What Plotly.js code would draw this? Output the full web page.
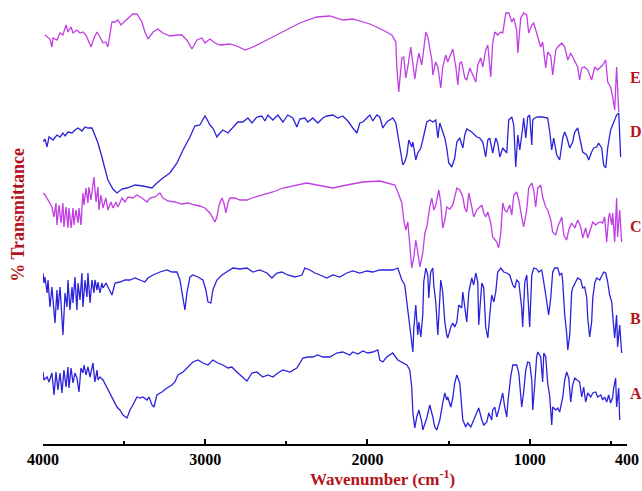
<!DOCTYPE html>
<html>
<head>
<meta charset="utf-8">
<script src="https://cdn.plot.ly/plotly-3.0.1.min.js"></script>
<style>html,body{margin:0;padding:0;background:#fff;}#chart{width:642px;height:491px;}</style>
</head>
<body>
<div id="chart"></div>
<script>
// Offset %T values (arbitrary stacked units)
const waveE = [3988,3957,3945,3938,3914,3895,3877,3858,3846,3827,3815,3791,3772,3754,3735,3704,3686,3667,3649,3630,3612,3600,3575,3556,3538,3519,3501,3476,3446,3421,3390,3372,3353,3322,3292,3261,3218,3174,3144,3113,3082,3051,3020,3002,2971,2940,2909,2848,2805,2755,2706,2620,2521,2417,2312,2232,2152,2090,1985,1905,1850,1825,1819,1807,1788,1776,1764,1751,1733,1720,1708,1696,1683,1665,1659,1640,1628,1603,1597,1579,1566,1548,1536,1517,1505,1486,1474,1455,1443,1431,1419,1400,1388,1369,1351,1332,1320,1302,1289,1271,1258,1240,1228,1215,1197,1178,1166,1147,1129,1110,1098,1080,1073,1055,1037,1018,1006,987,975,957,944,932,920,901,889,870,858,839,827,802,784,765,747,722,704,692,679,661,642,618,599,581,550,531,519,501,488,476,464,451];
const transE = [409,405,397,406,404,411,409,419,412,417,411,414,411,412,409,397,406,412,407,401,402,397,422,422,424,419,422,426,430,430,422,412,405,412,415,411,408,409,409,404,395,404,406,401,405,401,399,400,398,394,397,404,412,421,427,428,424,425,420,414,409,402,377,352,386,387,366,377,397,381,365,379,391,379,387,412,407,384,369,382,377,356,377,389,382,391,395,377,359,381,382,366,364,376,369,362,379,386,377,394,399,367,401,412,409,412,411,431,431,422,426,414,391,426,431,429,411,419,421,411,404,397,402,376,392,388,369,394,397,401,397,384,391,382,377,364,376,377,374,364,377,374,379,384,362,357,347,334,377,332];

const waveD = [4000,3988,3975,3963,3938,3914,3895,3877,3864,3846,3821,3803,3784,3760,3741,3723,3698,3680,3661,3637,3618,3600,3569,3544,3513,3482,3433,3384,3328,3298,3261,3218,3174,3137,3094,3064,3033,3014,3002,2990,2971,2953,2928,2909,2891,2860,2829,2799,2768,2737,2712,2682,2651,2632,2614,2583,2552,2521,2491,2460,2435,2417,2386,2367,2337,2306,2275,2250,2213,2183,2152,2121,2090,2065,2047,2028,2004,1985,1967,1942,1924,1905,1881,1862,1844,1825,1813,1794,1782,1770,1757,1745,1727,1720,1702,1690,1671,1659,1653,1634,1616,1597,1579,1566,1554,1536,1523,1511,1499,1480,1462,1449,1431,1412,1400,1388,1357,1326,1308,1289,1271,1258,1246,1228,1209,1197,1184,1166,1141,1129,1110,1098,1086,1073,1061,1043,1037,1024,1012,1000,987,981,969,950,920,889,876,864,852,833,815,796,784,772,753,735,722,704,685,673,648,636,618,605,587,575,556,544,531,519,501,488,470,464,451,445,439];
const transD = [302,305,297,307,304,309,307,311,308,312,311,314,316,313,317,316,316,309,301,287,274,264,255,251,255,256,259,258,256,261,266,271,281,294,307,318,319,324,328,325,319,316,307,311,314,311,317,322,322,326,321,327,328,323,329,324,329,322,329,326,317,325,326,322,326,321,326,328,329,326,328,323,316,311,321,322,326,329,323,329,327,316,322,324,326,321,309,292,279,282,289,304,297,302,284,291,296,304,309,322,324,322,324,306,321,311,306,296,281,277,286,302,306,296,309,315,312,307,306,302,287,304,306,291,306,301,287,296,291,324,327,319,277,309,294,316,326,306,327,329,299,324,326,327,327,326,312,294,306,289,284,306,312,307,296,302,312,316,302,292,289,284,292,296,297,301,296,279,276,296,314,319,326,329,331,299,287];

const waveC = [3998,3988,3969,3945,3932,3920,3914,3901,3889,3877,3871,3858,3846,3840,3827,3815,3809,3797,3784,3778,3766,3754,3747,3735,3723,3717,3704,3692,3686,3673,3661,3655,3643,3630,3612,3600,3581,3569,3550,3538,3513,3495,3476,3446,3421,3390,3359,3341,3310,3279,3261,3230,3187,3144,3107,3064,3033,3002,2971,2953,2940,2928,2916,2897,2885,2873,2860,2848,2817,2786,2743,2694,2645,2583,2521,2460,2374,2312,2232,2213,2127,2028,1924,1881,1831,1813,1788,1776,1764,1751,1739,1727,1714,1702,1690,1677,1659,1646,1634,1616,1603,1591,1579,1560,1548,1536,1523,1511,1492,1474,1449,1431,1412,1400,1388,1375,1357,1345,1326,1314,1295,1283,1271,1258,1240,1228,1215,1203,1191,1178,1166,1154,1141,1123,1110,1098,1080,1067,1049,1037,1018,1006,987,975,963,950,932,920,901,889,870,858,839,827,802,790,772,759,741,722,704,685,673,655,642,624,611,593,581,562,550,538,525,513,507,494,488,476,464,458,445,433];
const transC = [251,249,244,237,227,241,219,239,221,241,217,237,216,236,216,236,219,234,221,236,219,251,239,256,241,257,244,262,267,242,257,234,249,236,246,234,242,236,242,237,246,242,247,246,249,246,242,246,247,251,246,243,242,240,241,239,238,236,231,226,222,227,238,246,241,231,241,246,246,244,244,247,249,252,256,258,261,259,257,256,259,262,263,261,259,252,241,224,214,222,201,176,187,204,192,177,191,211,217,237,246,234,239,254,241,216,224,237,235,239,256,254,247,236,232,251,237,227,234,236,239,231,227,232,221,207,204,202,196,211,241,234,232,239,229,249,252,244,227,217,234,256,261,254,237,256,259,247,237,234,224,212,209,217,227,209,204,214,221,216,224,217,206,216,206,216,222,219,221,222,221,227,202,227,231,219,231,202,246,207,234,202];

const waveB = [4000,3994,3988,3975,3969,3957,3945,3938,3926,3914,3908,3895,3883,3877,3864,3852,3846,3834,3821,3815,3803,3791,3784,3772,3760,3754,3741,3729,3723,3710,3698,3686,3680,3667,3661,3649,3637,3630,3612,3600,3575,3556,3526,3495,3464,3433,3402,3372,3353,3322,3279,3236,3205,3174,3156,3137,3125,3113,3094,3076,3045,3014,2996,2983,2965,2953,2928,2897,2866,2829,2786,2743,2706,2663,2620,2589,2558,2528,2491,2447,2404,2386,2355,2324,2293,2263,2250,2213,2170,2127,2090,2047,2004,1967,1924,1881,1844,1813,1788,1770,1757,1745,1733,1720,1714,1702,1690,1683,1671,1659,1653,1640,1628,1622,1610,1597,1591,1579,1566,1560,1548,1536,1523,1511,1505,1486,1474,1462,1449,1437,1419,1412,1400,1388,1375,1357,1345,1332,1320,1314,1295,1283,1271,1258,1246,1234,1221,1209,1197,1178,1160,1141,1123,1104,1092,1080,1067,1049,1043,1030,1018,1012,1000,987,975,957,944,926,920,901,889,883,870,858,846,827,815,802,796,784,772,765,753,741,735,716,704,685,673,661,648,642,630,618,611,599,587,568,550,544,531,519,507,494,488,476,464,458,445,433];
const transB = [171,161,167,151,164,137,157,144,121,154,134,157,131,109,151,137,164,134,157,141,167,134,161,144,171,137,164,147,171,141,164,151,164,154,162,151,161,156,161,157,149,161,162,164,164,166,164,162,166,169,172,174,172,172,164,147,134,151,167,169,167,164,154,142,141,154,164,169,172,176,175,176,172,174,171,166,171,172,169,167,169,176,174,171,169,167,166,169,167,171,173,171,173,172,174,174,174,176,164,159,142,127,112,92,116,139,109,122,107,129,162,176,169,146,172,176,159,142,109,129,164,152,122,109,106,117,121,117,122,139,136,152,139,122,152,166,159,171,162,119,161,156,117,106,129,149,142,152,172,176,172,171,169,159,156,164,162,136,117,162,169,152,117,169,176,175,172,174,169,149,136,129,146,172,176,176,169,171,162,129,111,94,109,152,156,162,166,164,156,157,146,126,107,122,146,161,166,164,169,172,171,162,149,142,129,106,129,97,119,91];

const waveA = [4000,3994,3975,3963,3945,3932,3920,3908,3895,3883,3871,3858,3846,3840,3827,3815,3803,3791,3778,3766,3754,3747,3735,3723,3710,3698,3692,3680,3667,3661,3649,3630,3606,3587,3569,3544,3526,3507,3482,3464,3446,3421,3402,3384,3359,3347,3328,3316,3298,3267,3236,3205,3187,3168,3137,3107,3076,3045,3014,2983,2953,2922,2891,2860,2836,2805,2774,2743,2712,2682,2645,2614,2583,2552,2521,2478,2435,2398,2367,2337,2306,2275,2232,2189,2152,2109,2090,2059,2028,1998,1967,1936,1924,1905,1881,1844,1813,1782,1757,1739,1727,1720,1708,1696,1683,1665,1659,1634,1616,1597,1585,1573,1554,1536,1523,1511,1505,1486,1474,1462,1449,1431,1419,1412,1394,1382,1363,1351,1326,1314,1295,1283,1264,1252,1234,1228,1215,1203,1191,1172,1166,1154,1141,1135,1117,1104,1080,1067,1049,1037,1024,1012,1000,987,981,969,957,950,932,920,913,901,889,876,864,858,839,827,815,796,784,772,759,747,735,722,710,692,679,667,655,642,624,611,593,581,562,550,538,525,513,501,488,482,470,464,451,445];
const transA = [72,64,67,62,71,49,72,54,71,51,74,57,77,56,76,61,71,66,52,76,71,79,69,77,67,77,81,62,74,64,67,64,56,51,44,37,34,29,26,34,39,47,46,47,44,47,39,37,49,52,56,59,62,69,72,77,82,84,81,79,84,81,79,76,77,72,67,63,71,72,67,69,67,71,74,72,76,86,87,87,89,87,87,91,92,89,92,90,93,91,92,94,84,82,87,91,84,81,79,74,57,31,16,27,34,22,14,26,39,27,17,14,24,41,51,44,47,37,46,61,69,61,37,24,17,21,17,22,31,36,24,19,22,31,24,34,37,27,34,49,51,37,27,41,67,79,79,71,37,52,74,82,81,64,34,59,87,92,87,62,91,87,61,47,19,37,34,36,32,47,64,72,66,42,59,66,64,62,47,57,42,51,47,51,52,47,49,44,47,42,49,41,47,56,66,37,56,24];

const seriesNames = ['A','B','C','D','E'];
const labelLevels = [51, 126, 218, 313, 367];
const majorTicks = [4000, 3000, 2000, 1000, 400];
const majorTickText = ['4000', '3000', '2000', '1000', '400'];
const minorTicks = [3500, 2500, 1500, 500];

const MAG = '#c03ee4';
const BLUE = '#2b22dc';
const RED = '#b3141c';
const SERIF = 'Liberation Serif, Times New Roman, serif';

const waves = [waveA, waveB, waveC, waveD, waveE];
const trans = [transA, transB, transC, transD, transE];
const colors = [BLUE, BLUE, MAG, BLUE, MAG];

const traces = seriesNames.map((n, i) => ({
  x: waves[i], y: trans[i], name: n, type: 'scatter', mode: 'lines',
  line: {color: colors[i], width: 1.3}, hoverinfo: 'skip'
}));

const annotations = seriesNames.map((n, i) => ({
  text: n, xref: 'paper', yref: 'y', x: 1.0, y: labelLevels[i],
  xanchor: 'left', yanchor: 'middle', showarrow: false, xshift: 1,
  font: {family: SERIF, size: 16, color: RED, weight: 'bold'}
}));
annotations.push({
  text: '% Transmittance', xref: 'paper', yref: 'paper', x: -0.043, y: 0.528,
  textangle: -90, showarrow: false, xanchor: 'center', yanchor: 'middle',
  font: {family: SERIF, size: 18, color: RED, weight: 'bold'}
});
annotations.push({
  text: 'Wavenumber (cm<sup>-1</sup>)', xref: 'paper', yref: 'paper', x: 0.582, y: -0.078,
  showarrow: false, xanchor: 'center', yanchor: 'middle',
  font: {family: SERIF, size: 17, color: RED, weight: 'bold'}
});

const layout = {
  width: 642, height: 491,
  margin: {l: 43, r: 15, t: 10, b: 47},
  paper_bgcolor: '#fff', plot_bgcolor: '#fff',
  showlegend: false,
  xaxis: {
    range: [4000, 400], showgrid: false, zeroline: false,
    showline: true, linecolor: '#000', linewidth: 2,
    tickmode: 'array', tickvals: majorTicks, ticktext: majorTickText,
    ticks: 'inside', ticklen: 5, tickwidth: 2, tickcolor: '#000',
    tickfont: {family: SERIF, size: 16, color: '#000', weight: 'bold'},
    minor: {tickmode: 'array', tickvals: minorTicks, ticks: 'inside', ticklen: 3, tickwidth: 2, tickcolor: '#000'}
  },
  yaxis: {range: [0, 434], visible: false, showgrid: false, zeroline: false},
  annotations: annotations
};

Plotly.newPlot('chart', traces, layout, {displayModeBar: false, staticPlot: true});
</script>
</body>
</html>
